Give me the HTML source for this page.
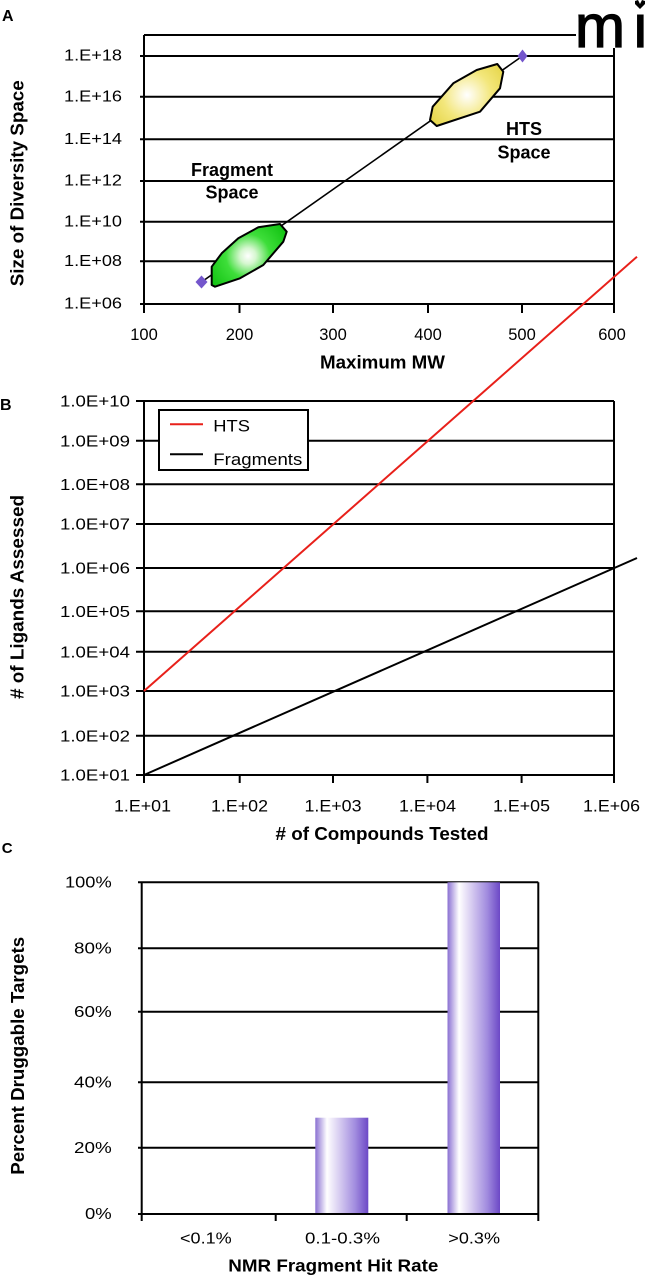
<!DOCTYPE html>
<html>
<head>
<meta charset="utf-8">
<style>
  html, body { margin: 0; padding: 0; background: #ffffff; }
  svg { display: block; }
  text { font-family: "Liberation Sans", Arial, sans-serif; fill: #000; }
  .b { font-weight: bold; }
</style>
</head>
<body>
<svg width="645" height="1280" viewBox="0 0 645 1280" xmlns="http://www.w3.org/2000/svg">
  <defs>
    <radialGradient id="gG" gradientUnits="userSpaceOnUse" cx="248" cy="256" r="44">
      <stop offset="0" stop-color="#ffffff"/>
      <stop offset="0.18" stop-color="#d6f7d0"/>
      <stop offset="0.5" stop-color="#3ede3a"/>
      <stop offset="1" stop-color="#14c414"/>
    </radialGradient>
    <radialGradient id="gY" gradientUnits="userSpaceOnUse" cx="467" cy="95" r="44">
      <stop offset="0" stop-color="#ffffff"/>
      <stop offset="0.2" stop-color="#fbf6cf"/>
      <stop offset="0.55" stop-color="#f3e77c"/>
      <stop offset="1" stop-color="#e6d64a"/>
    </radialGradient>
    <linearGradient id="gBar" x1="0" y1="0" x2="1" y2="0">
      <stop offset="0" stop-color="#8a70d2"/>
      <stop offset="0.22" stop-color="#ffffff"/>
      <stop offset="0.45" stop-color="#d8cdf1"/>
      <stop offset="0.75" stop-color="#a28ddf"/>
      <stop offset="1" stop-color="#6c48c6"/>
    </linearGradient>
  </defs>

  <rect x="0" y="0" width="645" height="1280" fill="#ffffff"/>

  <!-- ================= PANEL A ================= -->
  <text x="2" y="21" class="b" font-size="16">A</text>

  <!-- logo -->
  <text x="575" y="47" font-size="60" stroke="#000" stroke-width="1.3">m</text>
  <text x="632" y="47" font-size="60" stroke="#000" stroke-width="1.3">ı</text>
  <path d="M635,1 L638,0 L640,4 L642,0 L645,1 L645,4 L640,9 L635,4 Z" fill="#000"/>

  <!-- frame & grid -->
  <g stroke="#000" stroke-width="2" fill="none">
    <line x1="144" y1="35" x2="576" y2="35"/>
    <line x1="144" y1="35" x2="144" y2="313"/>
    <line x1="614" y1="48" x2="614" y2="313"/>
    <line x1="140" y1="56" x2="614" y2="56"/>
    <line x1="140" y1="96.7" x2="614" y2="96.7"/>
    <line x1="140" y1="139.3" x2="614" y2="139.3"/>
    <line x1="140" y1="181" x2="614" y2="181"/>
    <line x1="140" y1="221.7" x2="614" y2="221.7"/>
    <line x1="140" y1="261.3" x2="614" y2="261.3"/>
    <line x1="140" y1="304" x2="614" y2="304"/>
    <line x1="239.5" y1="304" x2="239.5" y2="313"/>
    <line x1="333" y1="304" x2="333" y2="313"/>
    <line x1="428" y1="304" x2="428" y2="313"/>
    <line x1="522" y1="304" x2="522" y2="313"/>
  </g>

  <!-- y labels A -->
  <g font-size="16">
    <text x="64" y="60.7" textLength="58" lengthAdjust="spacingAndGlyphs">1.E+18</text>
    <text x="64" y="101.4" textLength="58" lengthAdjust="spacingAndGlyphs">1.E+16</text>
    <text x="64" y="144" textLength="58" lengthAdjust="spacingAndGlyphs">1.E+14</text>
    <text x="64" y="185.7" textLength="58" lengthAdjust="spacingAndGlyphs">1.E+12</text>
    <text x="64" y="226.4" textLength="58" lengthAdjust="spacingAndGlyphs">1.E+10</text>
    <text x="64" y="266" textLength="58" lengthAdjust="spacingAndGlyphs">1.E+08</text>
    <text x="64" y="308.7" textLength="58" lengthAdjust="spacingAndGlyphs">1.E+06</text>
  </g>
  <!-- x labels A -->
  <g font-size="16.5" text-anchor="middle">
    <text x="144" y="340">100</text>
    <text x="239.5" y="340">200</text>
    <text x="333" y="340">300</text>
    <text x="428" y="340">400</text>
    <text x="522" y="340">500</text>
    <text x="612" y="340">600</text>
  </g>
  <text x="320" y="368.3" class="b" font-size="18" textLength="125" lengthAdjust="spacingAndGlyphs">Maximum MW</text>
  <text transform="translate(23.5,183.3) rotate(-90)" class="b" font-size="18" text-anchor="middle" textLength="206" lengthAdjust="spacingAndGlyphs">Size of Diversity Space</text>

  <!-- diagonal & blobs -->
  <line x1="201.5" y1="282" x2="522.5" y2="56" stroke="#000" stroke-width="1.6"/>
  <polygon points="211.7,285 211.7,266.7 221.7,253.3 238.3,238.3 258.3,227.3 280,224 286.7,231.7 283.3,241.7 263.3,265 240,278.3 215,286.7" fill="url(#gG)" stroke="#000" stroke-width="2" stroke-linejoin="round"/>
  <polygon points="430,120 432.7,106.7 453.3,83.3 476.7,70 497.3,64 503.3,71.7 500,88.3 480,111.7 436.7,126" fill="url(#gY)" stroke="#000" stroke-width="2" stroke-linejoin="round"/>
  <polygon points="201.5,275.5 207.5,282 201.5,288.5 195.5,282" fill="#7456cc"/>
  <polygon points="522.5,49.5 527.5,56 522.5,62.5 517.5,56" fill="#7456cc"/>

  <g class="b" font-size="18" text-anchor="middle">
    <text x="232" y="176" font-weight="bold">Fragment</text>
    <text x="232" y="198.3" font-weight="bold">Space</text>
    <text x="524" y="135" font-weight="bold">HTS</text>
    <text x="524" y="158.3" font-weight="bold">Space</text>
  </g>

  <!-- ================= PANEL B ================= -->
  <text x="0" y="410" class="b" font-size="16">B</text>

  <g stroke="#000" stroke-width="2" fill="none">
    <line x1="136" y1="401" x2="614" y2="401"/>
    <line x1="144" y1="401" x2="144" y2="783"/>
    <line x1="614" y1="401" x2="614" y2="783"/>
    <line x1="136" y1="440.7" x2="614" y2="440.7"/>
    <line x1="136" y1="484.3" x2="614" y2="484.3"/>
    <line x1="136" y1="524" x2="614" y2="524"/>
    <line x1="136" y1="568" x2="614" y2="568"/>
    <line x1="136" y1="611.3" x2="614" y2="611.3"/>
    <line x1="136" y1="651.7" x2="614" y2="651.7"/>
    <line x1="136" y1="691" x2="614" y2="691"/>
    <line x1="136" y1="735.7" x2="614" y2="735.7"/>
    <line x1="136" y1="775" x2="614" y2="775"/>
    <line x1="239.7" y1="775" x2="239.7" y2="783"/>
    <line x1="333" y1="775" x2="333" y2="783"/>
    <line x1="427.4" y1="775" x2="427.4" y2="783"/>
    <line x1="521.6" y1="775" x2="521.6" y2="783"/>
  </g>

  <g font-size="16">
    <text x="60" y="406.7" textLength="70" lengthAdjust="spacingAndGlyphs">1.0E+10</text>
    <text x="60" y="446.4" textLength="70" lengthAdjust="spacingAndGlyphs">1.0E+09</text>
    <text x="60" y="490" textLength="70" lengthAdjust="spacingAndGlyphs">1.0E+08</text>
    <text x="60" y="529.7" textLength="70" lengthAdjust="spacingAndGlyphs">1.0E+07</text>
    <text x="60" y="573.7" textLength="70" lengthAdjust="spacingAndGlyphs">1.0E+06</text>
    <text x="60" y="617" textLength="70" lengthAdjust="spacingAndGlyphs">1.0E+05</text>
    <text x="60" y="657.4" textLength="70" lengthAdjust="spacingAndGlyphs">1.0E+04</text>
    <text x="60" y="696.7" textLength="70" lengthAdjust="spacingAndGlyphs">1.0E+03</text>
    <text x="60" y="741.4" textLength="70" lengthAdjust="spacingAndGlyphs">1.0E+02</text>
    <text x="60" y="780.7" textLength="70" lengthAdjust="spacingAndGlyphs">1.0E+01</text>
  </g>
  <g font-size="17">
    <text x="114" y="811.7" textLength="57" lengthAdjust="spacingAndGlyphs">1.E+01</text>
    <text x="211" y="811.7" textLength="57" lengthAdjust="spacingAndGlyphs">1.E+02</text>
    <text x="304.5" y="811.7" textLength="57" lengthAdjust="spacingAndGlyphs">1.E+03</text>
    <text x="399" y="811.7" textLength="57" lengthAdjust="spacingAndGlyphs">1.E+04</text>
    <text x="493" y="811.7" textLength="57" lengthAdjust="spacingAndGlyphs">1.E+05</text>
    <text x="583" y="811.7" textLength="57" lengthAdjust="spacingAndGlyphs">1.E+06</text>
  </g>
  <text x="275.5" y="840" class="b" font-size="18" textLength="213" lengthAdjust="spacingAndGlyphs"># of Compounds Tested</text>
  <text transform="translate(23.5,597) rotate(-90)" class="b" font-size="18" text-anchor="middle" textLength="204" lengthAdjust="spacingAndGlyphs"># of Ligands Assessed</text>

  <!-- legend -->
  <rect x="159" y="410" width="149" height="60" fill="#ffffff" stroke="#000" stroke-width="2"/>
  <line x1="170" y1="424.3" x2="203" y2="424.3" stroke="#e8201a" stroke-width="2"/>
  <line x1="170" y1="454.3" x2="203" y2="454.3" stroke="#000" stroke-width="2"/>
  <text x="213.3" y="431.7" font-size="17" textLength="36.7" lengthAdjust="spacingAndGlyphs">HTS</text>
  <text x="213.3" y="465" font-size="17" textLength="89" lengthAdjust="spacingAndGlyphs">Fragments</text>

  <!-- fragments line -->
  <line x1="144" y1="775" x2="637" y2="558" stroke="#000" stroke-width="2"/>

  <!-- ================= PANEL C ================= -->
  <text x="1.7" y="853" class="b" font-size="15">C</text>

  <g stroke="#000" stroke-width="2" fill="none">
    <line x1="138" y1="882.3" x2="538.3" y2="882.3"/>
    <line x1="138" y1="948.3" x2="538.3" y2="948.3"/>
    <line x1="138" y1="1011.7" x2="538.3" y2="1011.7"/>
    <line x1="138" y1="1082.3" x2="538.3" y2="1082.3"/>
    <line x1="138" y1="1147.7" x2="538.3" y2="1147.7"/>
    <line x1="538.3" y1="882.3" x2="538.3" y2="1221"/>
  </g>

  <rect x="315.3" y="1117.7" width="53" height="96.3" fill="url(#gBar)"/>
  <rect x="447.5" y="882.3" width="52.5" height="331.7" fill="url(#gBar)"/>

  <g stroke="#000" stroke-width="2" fill="none">
    <line x1="141.7" y1="882.3" x2="141.7" y2="1221"/>
    <line x1="138" y1="1214" x2="538.3" y2="1214"/>
    <line x1="275.7" y1="1214" x2="275.7" y2="1221"/>
    <line x1="406.7" y1="1214" x2="406.7" y2="1221"/>
  </g>

  <g font-size="15.5">
    <text x="65" y="887.5" textLength="46.7" lengthAdjust="spacingAndGlyphs">100%</text>
    <text x="74" y="953.5" textLength="37.7" lengthAdjust="spacingAndGlyphs">80%</text>
    <text x="74" y="1016.9" textLength="37.7" lengthAdjust="spacingAndGlyphs">60%</text>
    <text x="74" y="1087.5" textLength="37.7" lengthAdjust="spacingAndGlyphs">40%</text>
    <text x="74" y="1152.9" textLength="37.7" lengthAdjust="spacingAndGlyphs">20%</text>
    <text x="85" y="1219.2" textLength="26.7" lengthAdjust="spacingAndGlyphs">0%</text>
  </g>
  <g font-size="16">
    <text x="180" y="1243.3" textLength="51.7" lengthAdjust="spacingAndGlyphs">&lt;0.1%</text>
    <text x="305" y="1243.3" textLength="75" lengthAdjust="spacingAndGlyphs">0.1-0.3%</text>
    <text x="448.3" y="1243.3" textLength="51.7" lengthAdjust="spacingAndGlyphs">&gt;0.3%</text>
  </g>
  <text x="228.3" y="1271.7" class="b" font-size="17.5" textLength="210" lengthAdjust="spacingAndGlyphs">NMR Fragment Hit Rate</text>
  <text transform="translate(24,1055.8) rotate(-90)" class="b" font-size="18" text-anchor="middle" textLength="238" lengthAdjust="spacingAndGlyphs">Percent Druggable Targets</text>

  <!-- HTS red line (spans panels A and B) -->
  <line x1="144" y1="691" x2="637" y2="256.7" stroke="#e8201a" stroke-width="2"/>
</svg>
</body>
</html>
